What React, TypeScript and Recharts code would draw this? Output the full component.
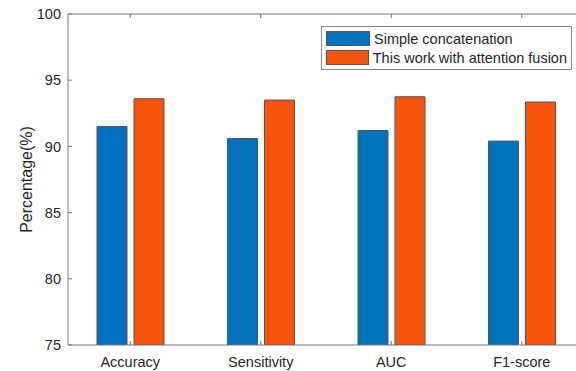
// Grouped bar chart: simple concatenation vs attention fusion

import { BarChart, Bar, XAxis, YAxis, Legend } from 'recharts';

const CATEGORIES = ['Accuracy', 'Sensitivity', 'AUC', 'F1-score'];
const SIMPLE_CONCAT = [91.5, 90.6, 91.2, 90.4];
const ATTENTION_FUSION = [93.6, 93.5, 93.75, 93.35];
const Y_TICKS = [75, 80, 85, 90, 95, 100];

const SERIES = [
  { key: 'simple', name: 'Simple concatenation', color: '#0072BD' },
  { key: 'fusion', name: 'This work with attention fusion', color: '#F9540B' },
];

const FONT = '"Liberation Sans", Arial, Helvetica, sans-serif';
const AXIS_COLOR = '#777';
const TEXT_COLOR = '#262626';

const data = CATEGORIES.map((name, i) => ({
  name,
  simple: SIMPLE_CONCAT[i],
  fusion: ATTENTION_FUSION[i],
}));

function YLabel({ viewBox }: any) {
  const cy = viewBox.y + viewBox.height / 2;
  return (
    <text
      x={26}
      y={cy}
      transform={`rotate(-90, 26, ${cy})`}
      textAnchor="middle"
      dominantBaseline="central"
      fontSize={16}
      fontFamily={FONT}
      fill={TEXT_COLOR}
    >
      Percentage(%)
    </text>
  );
}

function LegendBox() {
  return (
    <div
      style={{
        border: '1px solid #888',
        background: '#fff',
        padding: '2px 4px',
        width: 251,
        boxSizing: 'border-box',
        fontSize: 14.5,
        fontFamily: FONT,
        color: TEXT_COLOR,
      }}
    >
      {SERIES.map((s) => (
        <div key={s.key} style={{ display: 'flex', alignItems: 'center', height: 19 }}>
          <span
            style={{
              display: 'inline-block',
              width: 44,
              height: 15,
              background: s.color,
              border: '1px solid #555',
              boxSizing: 'border-box',
              marginRight: 4,
            }}
          />
          <span style={{ whiteSpace: 'nowrap' }}>{s.name}</span>
        </div>
      ))}
    </div>
  );
}

export default function App() {
  const tickStyle = { fontSize: 14.5, fontFamily: FONT, fill: TEXT_COLOR };
  return (
    <div
      style={{
        position: 'absolute',
        left: 0,
        top: 0,
        width: 576,
        height: 371,
        overflow: 'hidden',
        background: '#fff',
      }}
    >
      <BarChart
        width={590}
        height={371}
        data={data}
        margin={{ top: 13, right: 3, bottom: 0, left: 0 }}
        barSize={30}
        barGap={7}
      >
        <XAxis
          dataKey="name"
          height={26}
          interval={0}
          padding={{ left: -3, right: 0 }}
          tickSize={-4}
          tickMargin={16}
          tick={tickStyle}
          axisLine={{ stroke: AXIS_COLOR }}
          tickLine={{ stroke: AXIS_COLOR }}
        />
        {/* top edge of the box, inward ticks only */}
        <XAxis
          xAxisId="top"
          orientation="top"
          dataKey="name"
          height={1}
          interval={0}
          padding={{ left: -3, right: 0 }}
          tickSize={-4}
          tick={() => <g />}
          axisLine={{ stroke: AXIS_COLOR }}
          tickLine={{ stroke: AXIS_COLOR }}
        />
        <YAxis
          width={68}
          domain={[75, 100]}
          ticks={Y_TICKS}
          allowDataOverflow
          tickSize={-4}
          tickMargin={11}
          tick={tickStyle}
          axisLine={{ stroke: AXIS_COLOR }}
          tickLine={{ stroke: AXIS_COLOR }}
          label={<YLabel />}
        />
        <Legend
          layout="vertical"
          verticalAlign="middle"
          align="center"
          content={<LegendBox />}
          wrapperStyle={{ top: 26, left: 321, width: 251, height: 'auto' }}
        />
        {SERIES.map((s) => (
          <Bar
            key={s.key}
            dataKey={s.key}
            name={s.name}
            fill={s.color}
            stroke="#555"
            strokeWidth={1}
            isAnimationActive={false}
          />
        ))}
      </BarChart>
    </div>
  );
}
